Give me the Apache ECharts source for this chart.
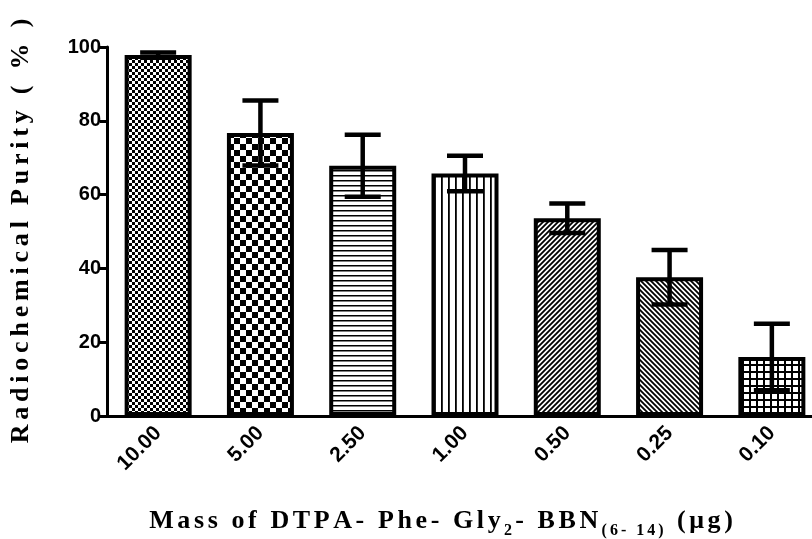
<!DOCTYPE html>
<html>
<head>
<meta charset="utf-8">
<script src="https://cdn.jsdelivr.net/npm/echarts@6/dist/echarts.min.js"></script>
<style>html,body{margin:0;padding:0;background:#fff;}#c{width:812px;height:539px;}</style>
</head>
<body>
<div id="c"></div>
<script>
const categories = ['10.00', '5.00', '2.50', '1.00', '0.50', '0.25', '0.10'];
const means = [97.8, 76.7, 67.8, 65.7, 53.6, 37.6, 16.0];
const errors = [0.7, 8.8, 8.4, 4.8, 4.0, 7.4, 9.0];
const yTicks = [0, 20, 40, 60, 80, 100];
const yTitle = 'Radiochemical Purity ( % )';
const xTitleParts = [['m', 'Mass of DTPA- Phe- Gly'], ['s', '2'], ['m', '- BBN'], ['s', '(6- 14)'], ['m', ' (μg)']];

function makeCanvas(w, h, draw) {
  const c = document.createElement('canvas');
  c.width = w; c.height = h;
  const ctx = c.getContext('2d');
  ctx.fillStyle = '#fff'; ctx.fillRect(0, 0, w, h);
  ctx.fillStyle = '#000'; ctx.strokeStyle = '#000';
  draw(ctx, w, h);
  return c;
}
const patterns = [
  makeCanvas(6, 6, (ctx) => { ctx.fillRect(0, 0, 3, 3); ctx.fillRect(3, 3, 3, 3); }),
  makeCanvas(12, 12, (ctx) => { ctx.fillRect(0, 0, 6, 6); ctx.fillRect(6, 6, 6, 6); }),
  makeCanvas(8, 5, (ctx) => { ctx.fillRect(0, 0, 8, 1.5); }),
  makeCanvas(7, 8, (ctx) => { ctx.fillRect(0, 0, 1.8, 8); }),
  makeCanvas(5, 5, (ctx, s) => {
    ctx.lineWidth = 1.8;
    ctx.beginPath();
    ctx.moveTo(-1, s + 1); ctx.lineTo(s + 1, -1);
    ctx.moveTo(-1, 1); ctx.lineTo(1, -1);
    ctx.moveTo(s - 1, s + 1); ctx.lineTo(s + 1, s - 1);
    ctx.stroke();
  }),
  makeCanvas(5, 5, (ctx, s) => {
    ctx.lineWidth = 1.8;
    ctx.beginPath();
    ctx.moveTo(-1, -1); ctx.lineTo(s + 1, s + 1);
    ctx.moveTo(s - 1, -1); ctx.lineTo(s + 1, 1);
    ctx.moveTo(-1, s - 1); ctx.lineTo(1, s + 1);
    ctx.stroke();
  }),
  makeCanvas(7, 7, (ctx) => { ctx.fillRect(0, 0, 7, 2); ctx.fillRect(0, 0, 2, 7); })
];

// letter-spaced rich text: every character becomes its own token
function spaced(str, style) {
  return Array.from(str).map(ch => '{' + style + '|' + ch + '}').join('');
}

const barData = means.map((v, i) => ({
  value: v,
  itemStyle: { color: { image: patterns[i], repeat: 'repeat' } }
}));
const errData = means.map((v, i) => [i, v - errors[i], v + errors[i]]);

const chart = echarts.init(document.getElementById('c'), null, { renderer: 'canvas' });
chart.setOption({
  animation: false,
  backgroundColor: '#fff',
  grid: { left: 107, width: 716, top: 47, height: 369, containLabel: false, outerBoundsMode: 'none' },
  xAxis: {
    type: 'category',
    data: categories,
    axisLine: { lineStyle: { color: '#000', width: 3 } },
    axisTick: { alignWithLabel: true, length: 9, lineStyle: { color: '#000', width: 3 } },
    axisLabel: { rotate: 45, color: '#000', fontFamily: 'Liberation Sans', fontWeight: 'bold', fontSize: 21, margin: 14 },
    splitLine: { show: false }
  },
  yAxis: {
    type: 'value', min: 0, max: 100, interval: 20,
    axisLine: { show: true, lineStyle: { color: '#000', width: 3 } },
    axisTick: { show: true, length: 7, lineStyle: { color: '#000', width: 3 } },
    axisLabel: { color: '#000', fontFamily: 'Liberation Sans', fontWeight: 'bold', fontSize: 20, margin: 6,
      formatter: (v) => yTicks.includes(v) ? String(v) : '' },
    splitLine: { show: false }
  },
  series: [
    {
      type: 'bar', data: barData, barWidth: 67,
      itemStyle: { borderColor: '#000', borderWidth: 4 }
    },
    {
      type: 'custom', z: 10,
      data: errData,
      renderItem: function (params, api) {
        const i = api.value(0);
        const lo = api.coord([i, api.value(1)]);
        const hi = api.coord([i, api.value(2)]);
        const x = lo[0];
        const hw = 18;
        const st = { stroke: '#000', lineWidth: 4.5 };
        return {
          type: 'group',
          children: [
            { type: 'line', shape: { x1: x, y1: lo[1], x2: x, y2: hi[1] }, style: st },
            { type: 'line', shape: { x1: x - hw, y1: hi[1], x2: x + hw, y2: hi[1] }, style: st },
            { type: 'line', shape: { x1: x - hw, y1: lo[1], x2: x + hw, y2: lo[1] }, style: st }
          ]
        };
      }
    }
  ],
  graphic: [
    {
      type: 'text', x: 21, y: 231, rotation: Math.PI / 2,
      style: {
        text: spaced(yTitle, 'c'),
        align: 'center', verticalAlign: 'middle',
        rich: { c: { font: 'bold 26px "Liberation Serif"', fill: '#000', padding: [0, 2.4, 0, 2.4] } }
      }
    },
    {
      type: 'text', x: 441, y: 521,
      style: {
        text: xTitleParts.map(p => spaced(p[1], p[0])).join(''),
        align: 'center', verticalAlign: 'middle',
        rich: {
          m: { font: 'bold 26px "Liberation Serif"', fill: '#000', verticalAlign: 'bottom', padding: [0, 1.8, 0, 1.8] },
          s: { font: 'bold 16px "Liberation Serif"', fill: '#000', verticalAlign: 'bottom', padding: [0, 1.5, -5, 1.5] }
        }
      }
    }
  ]
});
</script>
</body>
</html>
